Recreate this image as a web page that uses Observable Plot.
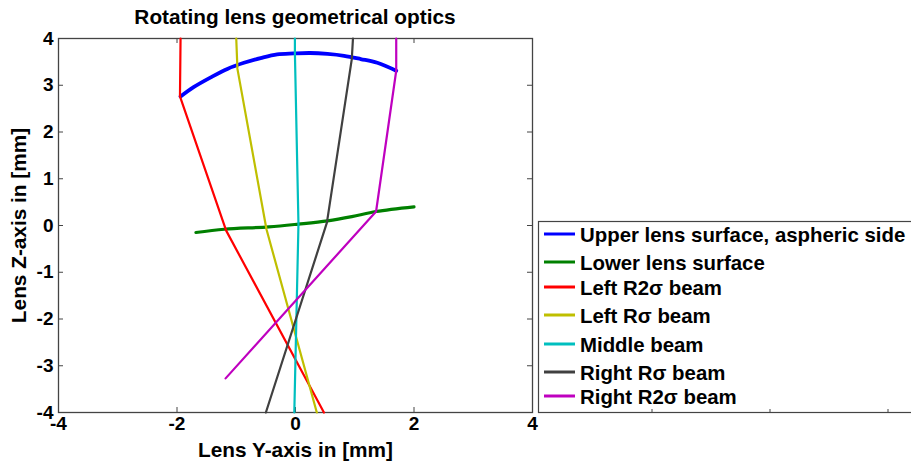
<!DOCTYPE html>
<html>
<head>
<meta charset="utf-8">
<script src="https://cdn.jsdelivr.net/npm/d3@7"></script>
<script src="https://cdn.jsdelivr.net/npm/@observablehq/plot@0.6"></script>
<style>
  html, body { margin: 0; padding: 0; background: #fff; overflow: hidden; }
  #wrap { position: relative; width: 911px; height: 461px; font-family: "Liberation Sans", Arial, sans-serif; }
  #title { position: absolute; left: 0; top: 7px; width: 590px; text-align: center; font-weight: bold; font-size: 20.8px; line-height: 20px; color: #000; }
  #plot { position: absolute; left: 0; top: 30px; }
  #legend { position: absolute; left: 538px; top: 221px; }
</style>
</head>
<body>
<div id="wrap">
  <div id="title">Rotating lens geometrical optics</div>
  <div id="plot"></div>
  <div id="legend"></div>
</div>
<script>
// ---- Data, Y = lens Y-axis [mm], Z = lens Z-axis [mm]
const upperY = [-1.94, -1.72, -1.43, -1.15, -0.87, -0.59, -0.31, -0.03, 0.25, 0.54, 0.82, 1.10, 1.38, 1.70];
const upperZ = [ 2.76,  2.96,  3.17,  3.35,  3.48,  3.58,  3.66,  3.68, 3.69, 3.67, 3.63, 3.56, 3.48, 3.31];

const lowerY = [-1.68, -1.20, -0.45, 0.05, 0.54, 0.95, 1.36, 2.00];
const lowerZ = [-0.15, -0.08, -0.03, 0.03, 0.10, 0.19, 0.30, 0.40];

const leftR2Y  = [-1.94, -1.95, -1.17, 0.48];
const leftR2Z  = [ 4.00,  2.76, -0.11, -4.00];
const leftR1Y  = [-1.00, -0.98, -0.49, 0.36];
const leftR1Z  = [ 4.00,  3.35, -0.08, -4.00];
const middleY  = [-0.01, -0.01, 0.05, -0.02];
const middleZ  = [ 4.00,  3.68, 0.03, -4.00];
const rightR1Y = [ 0.97,  0.95, 0.53, -0.50];
const rightR1Z = [ 4.00,  3.56, 0.06, -4.00];
const rightR2Y = [ 1.70,  1.70, 1.36, -1.18];
const rightR2Z = [ 4.00,  3.31, 0.30, -3.27];

const seriesNames = ["Upper lens surface, aspheric side", "Lower lens surface", "Left R2\u03c3 beam",
                     "Left R\u03c3 beam", "Middle beam", "Right R\u03c3 beam", "Right R2\u03c3 beam"];
const seriesColors = ["#0000ff", "#008000", "#ff0000", "#bfbf00", "#00bfbf", "#404040", "#bf00bf"];
const seriesWidths = [3.8, 3.2, 2.2, 2.2, 2.2, 2.2, 2.2];
const seriesCurves = ["catmull-rom", "catmull-rom", "linear", "linear", "linear", "linear", "linear"];
const seriesY = [upperY, lowerY, leftR2Y, leftR1Y, middleY, rightR1Y, rightR2Y];
const seriesZ = [upperZ, lowerZ, leftR2Z, leftR1Z, middleZ, rightR1Z, rightR2Z];

const xTicks = [-4, -2, 0, 2, 4];
const yTicks = [-4, -3, -2, -1, 0, 1, 2, 3, 4];
const legendTicks = [652, 770, 888];

// ---- Build tables
const tables = seriesNames.map((name, i) => seriesY[i].map((y, j) => ({series: name, y, z: seriesZ[i][j]})));

const axisColor = "#444";
const fmt = d => String(d);

const chart = Plot.plot({
  width: 911,
  height: 431,
  marginTop: 8,
  marginBottom: 49,
  marginLeft: 58,
  marginRight: 379,
  x: {domain: [-4, 4]},
  y: {domain: [-4, 4]},
  style: {fontFamily: "'Liberation Sans', Arial, sans-serif", fontWeight: "bold", fontSize: "19px", color: "#000", background: "transparent", overflow: "visible"},
  marks: [
    Plot.frame({stroke: axisColor, strokeWidth: 1.3}),
    Plot.ruleX(xTicks, {stroke: axisColor, insetTop: 369}),
    Plot.ruleX(xTicks, {stroke: axisColor, insetBottom: 369}),
    Plot.ruleY(yTicks, {stroke: axisColor, insetRight: 469}),
    Plot.ruleY(yTicks, {stroke: axisColor, insetLeft: 469}),
    Plot.axisX({ticks: xTicks, anchor: "bottom", tickSize: 0, tickPadding: 4, tickFormat: fmt, fontSize: 19, label: null}),
    Plot.axisX({ticks: [], anchor: "bottom", tickSize: 0, fontSize: 20.8,
      label: "Lens Y-axis in [mm]", labelAnchor: "center", labelArrow: "none", labelOffset: 44}),
    Plot.axisY({ticks: yTicks, anchor: "left", tickSize: 0, tickPadding: 5, tickFormat: fmt, fontSize: 19, label: null}),
    Plot.axisY({ticks: [], anchor: "left", tickSize: 0, fontSize: 20.8,
      label: "Lens Z-axis in [mm]", labelAnchor: "center", labelArrow: "none", labelOffset: 47}),
    ...tables.map((t, i) => Plot.line(t, {x: "y", y: "z", stroke: seriesColors[i], strokeWidth: seriesWidths[i],
      curve: seriesCurves[i], strokeLinejoin: "round", strokeLinecap: "round"}))
  ]
});
document.getElementById("plot").appendChild(chart);

// ---- Legend
const rowY = [13, 41, 66, 94, 123, 151, 175];
const lw = 380, lh = 192;
let svg = `<svg width="${lw}" height="${lh}" xmlns="http://www.w3.org/2000/svg" style="overflow:visible">`;
svg += `<rect x="0.5" y="0.5" width="${lw - 1}" height="${lh - 1}" fill="#fff" stroke="${axisColor}" stroke-width="1.2"/>`;
legendTicks.forEach(px => {
  const lx = px - 538;
  svg += `<line x1="${lx}" x2="${lx}" y1="${lh - 1}" y2="${lh - 4}" stroke="${axisColor}" stroke-width="1"/>`;
});
seriesNames.forEach((name, i) => {
  const y = rowY[i];
  svg += `<line x1="6" x2="37" y1="${y}" y2="${y}" stroke="${seriesColors[i]}" stroke-width="3"/>`;
  svg += `<text x="42" y="${y + 7.5}" font-family="'Liberation Sans', Arial, sans-serif" font-weight="bold" font-size="20.4" fill="#000">${name}</text>`;
});
svg += `</svg>`;
document.getElementById("legend").innerHTML = svg;
</script>
</body>
</html>
